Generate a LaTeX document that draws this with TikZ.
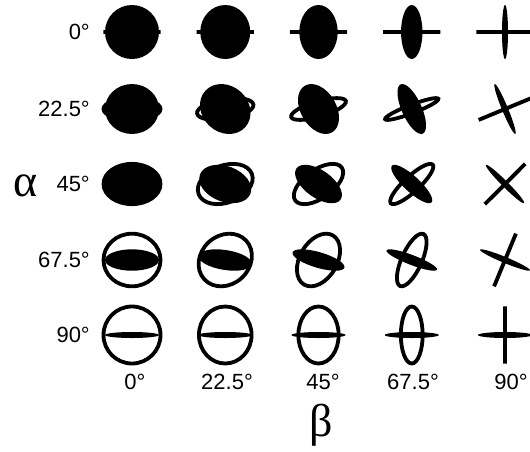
\documentclass[tikz,border=0pt]{standalone}
\usepackage{fontspec}
\setmainfont{Liberation Sans}
\newfontfamily\greekfont{Liberation Serif}
\begin{document}
\begin{tikzpicture}[x=1pt,y=1pt,
  lab/.style={font=\fontsize{22}{22}\selectfont, inner sep=0pt},
  glab/.style={font=\greekfont\fontsize{46}{46}\selectfont, inner sep=0pt},
  disk/.style={fill=black},
  ring/.style={draw=black, line width=3.8pt}]
\useasboundingbox (0,0) rectangle (530,-451);
\foreach \ii/\alp/\yy in {0/0/32, 1/22.5/109, 2/45/184, 3/67.5/260, 4/90/335} {
  \node[lab, anchor=east] (row\ii) at (90,-\yy) {\alp°};
  \foreach \jj/\bet in {0/0,1/22.5,2/45,3/67.5,4/90} {
    \pgfmathsetmacro\cx{132+93.25*\jj}
    \pgfmathsetmacro\dx{cos(\alp)*sin(\bet)}
    \pgfmathsetmacro\dy{sin(\alp)}
    \pgfmathsetmacro\dz{abs(cos(\alp)*cos(\bet))}
    \pgfmathsetmacro\rx{-sin(\alp)*sin(\bet)}
    \pgfmathsetmacro\ry{cos(\alp)}
    \pgfmathsetmacro\rz{abs(sin(\alp)*cos(\bet))}
    \pgfmathsetmacro\dang{atan2(\dy,\dx+0.00001)+90}
    \pgfmathsetmacro\rang{atan2(\ry,\rx+0.00001)+90}
    \pgfmathsetmacro\dmin{sqrt(729*(\dz)*(\dz)+9*(1-(\dz)*(\dz)))}
    \pgfmathsetmacro\rmin{max(28.5*\rz,0.05)}
    \fill[disk, rotate around={\dang:(\cx,-\yy)}] (\cx,-\yy) ellipse [x radius=27pt, y radius=\dmin pt];
    \draw[ring, rotate around={\rang:(\cx,-\yy)}] (\cx,-\yy) ellipse [x radius=28.5pt, y radius=\rmin pt];
  }
}
\foreach \jj/\bet/\xx in {0/0/135, 1/22.5/227, 2/45/323, 3/67.5/413, 4/90/511} {
  \node[lab, anchor=base] (col\jj) at (\xx,-389) {\bet°};
}
\node[glab, anchor=base] (alpha) at (26,-196) {α};
\node[glab, anchor=base] (beta) at (321,-436) {β};
\end{tikzpicture}
\end{document}
